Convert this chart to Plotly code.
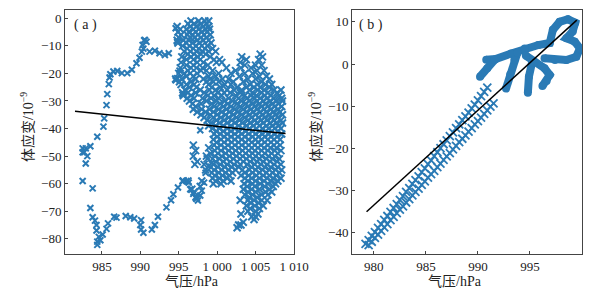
import plotly.graph_objects as go

# ---------------- Panel (a) data ----------------
# sparse trajectory points (pressure hPa, strain 1e-9)
track_p = [984.4, 985.2, 985.3, 985.6, 985.7, 985.9, 986.0, 986.1, 986.5, 987.0, 987.6, 988.3, 988.9,
           989.5, 989.9, 990.2, 990.3, 990.5, 990.6, 990.8, 990.4, 991.2, 991.9, 992.5, 993.2, 993.7,
           994.6, 994.8, 994.8, 995.1, 994.6, 995.5, 997.8,
           982.5, 982.7, 982.9, 982.5, 983.5, 983.1, 982.9, 982.5, 983.8, 983.5,
           983.8, 984.1, 984.3, 984.3, 984.4, 984.4, 984.6, 984.8, 985.1, 985.6, 985.8, 986.6, 986.9,
           988.1, 988.7, 989.2, 990.1, 990.0, 990.1, 990.4, 991.5, 991.9, 992.3, 993.4, 994.0, 994.3,
           994.9, 995.5, 996.0, 996.3, 996.5, 996.9, 997.2, 997.5, 997.3, 997.8, 998.0, 998.3, 998.5,
           998.9, 999.3]
track_s = [-43.0, -39.3, -36.3, -31.5, -27.5, -23.9, -21.5, -20.3, -19.3, -19.1, -19.9, -19.9, -18.7,
           -16.3, -14.3, -12.1, -9.7, -8.0, -7.9, -8.5, -11.0, -12.1, -11.8, -12.7, -13.3, -12.7,
           -3.6, -8.5, -21.7, -19.0, -22.5, -27.7, -40.6,
           -47.2, -48.6, -47.2, -48.6, -46.4, -50.0, -52.7, -59.0, -61.7, -68.8,
           -72.2, -73.4, -75.0, -77.0, -81.0, -82.2, -79.3, -80.5, -78.4, -76.4, -74.4, -72.0, -72.3,
           -71.7, -72.2, -72.6, -73.2, -75.0, -76.6, -77.8, -76.6, -75.0, -72.0, -68.6, -66.0, -63.8,
           -61.4, -59.0, -59.0, -59.6, -62.0, -63.7, -64.9, -66.1, -65.5, -64.3, -62.5, -59.6, -56.0,
           -53.6, -52.4]

# dense cloud, one strain level per row with the pressures read along that row
cloud_strain = list(range(-1, -77, -1))
cloud_pressure = [
    [996.6, 997.6, 998.4, 998.9],
    [996.2, 997.0, 997.9, 998.6],
    [994.8, 996.5, 997.3, 998.2, 998.9],
    [995.2, 996.0, 996.9, 997.6, 998.5, 999.0],
    [994.9, 996.3, 997.2, 998.0, 998.7],
    [995.3, 996.1, 996.8, 997.5, 998.3, 999.1],
    [995.0, 996.5, 997.1, 997.9, 998.6],
    [994.8, 995.6, 996.3, 997.4, 998.2, 998.9],
    [994.9, 996.0, 996.8, 997.7, 999.2],
    [995.5, 996.4, 997.2, 998.0, 998.7],
    [996.1, 996.9, 997.6, 998.4, 999.4],
    [995.7, 996.5, 997.3, 998.1, 998.9, 999.8],
    [996.2, 997.0, 997.9, 998.5, 1005.6],
    [995.4, 996.6, 997.5, 999.1, 1003.2, 1005.9],
    [996.0, 996.9, 997.8, 999.6, 1000.3, 1003.8, 1005.4],
    [995.3, 997.4, 998.2, 999.9, 1000.6, 1003.0],
    [996.0, 996.9, 998.8, 1003.6, 1005.0, 1005.8],
    [995.2, 996.6, 997.3, 998.1, 1001.2, 1003.1, 1004.4],
    [996.2, 997.9, 998.6, 999.4, 1002.4, 1005.2, 1006.1],
    [995.0, 995.7, 996.5, 997.4, 1000.2, 1001.8, 1003.6, 1004.6],
    [996.0, 996.9, 998.9, 999.8, 1002.9, 1005.5, 1006.4],
    [994.6, 995.4, 997.2, 998.2, 999.1, 1000.7, 1001.5, 1004.0, 1005.0, 1006.8],
    [995.1, 996.6, 998.6, 999.5, 1000.2, 1002.1, 1003.4, 1005.8],
    [995.3, 996.0, 997.0, 998.9, 1001.0, 1001.8, 1004.3, 1005.2, 1006.3, 1007.1],
    [996.4, 997.3, 999.3, 1000.4, 1002.6, 1003.8, 1004.8, 1005.6, 1006.8],
    [995.8, 997.8, 999.0, 999.8, 1001.3, 1002.2, 1003.2, 1004.2, 1005.3, 1006.1, 1007.4, 1008.3],
    [995.5, 996.2, 997.2, 998.3, 1000.1, 1000.9, 1001.7, 1003.0, 1004.6, 1005.8, 1006.6, 1007.8],
    [995.6, 996.6, 998.8, 999.6, 1000.6, 1002.4, 1003.6, 1004.4, 1005.1, 1006.2, 1007.0, 1008.1],
    [996.1, 997.0, 998.1, 999.2, 1000.2, 1001.5, 1002.8, 1003.9, 1004.9, 1005.6, 1006.5, 1007.4, 1008.4],
    [996.4, 998.6, 999.9, 1001.0, 1002.0, 1003.2, 1004.2, 1005.2, 1006.0, 1006.9, 1007.7, 1008.5],
    [996.8, 997.9, 999.3, 1000.4, 1001.4, 1002.6, 1003.7, 1004.6, 1005.5, 1006.3, 1007.2, 1008.0],
    [997.2, 999.6, 1000.8, 1001.8, 1003.0, 1004.0, 1004.9, 1005.8, 1006.6, 1007.5, 1008.4],
    [996.9, 998.0, 999.0, 1000.2, 1001.2, 1002.3, 1003.4, 1004.4, 1005.2, 1006.1, 1007.0, 1007.9],
    [997.4, 998.5, 999.5, 1000.6, 1001.6, 1002.7, 1003.8, 1004.7, 1005.6, 1006.4, 1007.3, 1008.2],
    [997.9, 999.1, 1000.0, 1001.1, 1002.1, 1003.2, 1004.2, 1005.0, 1005.9, 1006.8, 1007.6, 1008.5],
    [998.3, 999.5, 1000.5, 1001.5, 1002.5, 1003.6, 1004.5, 1005.4, 1006.2, 1007.1, 1007.9],
    [998.7, 999.9, 1000.9, 1001.9, 1002.9, 1004.0, 1004.9, 1005.7, 1006.5, 1007.4, 1008.3],
    [999.2, 1000.3, 1001.3, 1002.3, 1003.3, 1004.3, 1005.2, 1006.0, 1006.9, 1007.7, 1008.5],
    [998.9, 999.8, 1000.8, 1001.8, 1002.8, 1003.8, 1004.7, 1005.5, 1006.4, 1007.2, 1008.0],
    [999.4, 1000.3, 1001.3, 1002.3, 1003.3, 1004.2, 1005.1, 1005.9, 1006.7, 1007.5, 1008.3],
    [999.9, 1000.8, 1001.8, 1002.8, 1003.7, 1004.6, 1005.5, 1006.3, 1007.1, 1007.9],
    [999.6, 1000.4, 1001.3, 1002.3, 1003.2, 1004.1, 1005.0, 1005.9, 1006.7, 1007.5, 1008.4],
    [1000.0, 1000.9, 1001.8, 1002.7, 1003.6, 1004.6, 1005.4, 1006.2, 1007.0, 1007.8],
    [999.5, 1000.5, 1001.4, 1002.3, 1003.2, 1004.1, 1005.0, 1005.8, 1006.6, 1007.4, 1008.2],
    [999.9, 1000.9, 1001.9, 1002.8, 1003.7, 1004.5, 1005.3, 1006.2, 1007.0, 1007.8],
    [996.9, 999.6, 1000.5, 1001.4, 1002.3, 1003.2, 1004.1, 1004.9, 1005.7, 1006.6, 1007.4, 1008.2],
    [998.9, 1000.0, 1001.0, 1001.9, 1002.8, 1003.7, 1004.5, 1005.3, 1006.1, 1006.9, 1007.7],
    [997.2, 999.7, 1000.5, 1001.5, 1002.4, 1003.3, 1004.1, 1004.9, 1005.8, 1006.6, 1007.5, 1008.3],
    [999.1, 1000.1, 1001.1, 1002.0, 1002.9, 1003.7, 1004.6, 1005.4, 1006.2, 1007.1, 1007.9],
    [996.9, 998.6, 999.7, 1000.6, 1001.6, 1002.5, 1003.3, 1004.2, 1005.0, 1005.8, 1006.7, 1007.5],
    [998.7, 999.4, 1000.3, 1001.2, 1002.1, 1003.0, 1003.8, 1004.7, 1005.5, 1006.4, 1007.2, 1008.1],
    [997.4, 999.8, 1000.8, 1001.7, 1002.6, 1003.4, 1004.3, 1005.2, 1006.0, 1006.9, 1007.8],
    [997.1, 998.3, 999.5, 1000.4, 1001.3, 1002.2, 1003.0, 1003.9, 1004.9, 1005.7, 1006.5, 1007.4, 1008.3],
    [999.2, 1000.1, 1001.0, 1001.9, 1002.8, 1004.5, 1005.3, 1006.2, 1007.0, 1007.9],
    [998.5, 999.6, 1000.6, 1001.5, 1002.4, 1003.3, 1004.2, 1005.0, 1005.9, 1006.8, 1007.6, 1008.4],
    [999.3, 1000.2, 1001.1, 1002.0, 1003.6, 1004.6, 1005.5, 1006.4, 1007.2, 1008.1],
    [999.7, 1000.7, 1001.6, 1003.1, 1004.1, 1005.1, 1006.0, 1006.8, 1007.7],
    [999.4, 1000.3, 1001.3, 1003.6, 1004.5, 1005.5, 1006.5, 1007.3, 1008.3],
    [995.6, 996.2, 998.0, 999.8, 1000.8, 1001.8, 1004.0, 1005.0, 1006.1, 1007.0, 1007.9],
    [999.5, 1000.5, 1003.5, 1004.6, 1005.6, 1006.6, 1007.6],
    [997.8, 1003.9, 1004.9, 1006.2, 1007.3],
    [996.7, 1003.4, 1004.5, 1005.5, 1006.8],
    [997.0, 1004.0, 1005.0, 1006.3, 1007.1],
    [1003.6, 1004.6, 1005.8, 1006.6],
    [997.3, 1004.2, 1005.2],
    [1003.0, 1004.0, 1004.8, 1005.8, 1006.5],
    [1004.4, 1005.4],
    [1003.8, 1004.9, 1006.0],
    [1004.3, 1005.5],
    [1004.0, 1005.0],
    [1003.1, 1005.3],
    [1004.5, 1005.0],
    [1004.8],
    [1003.4],
    [1002.8, 1003.1],
    [1002.6],
]

fit_a_p = [981.5, 1008.9]
fit_a_s = [-33.7, -41.8]

# ---------------- Panel (b) data ----------------
band1_p = [979.2, 979.5, 979.8, 980.1, 980.4, 980.7, 981.0, 981.3, 981.6, 981.9, 982.2, 982.5,
           982.8, 983.1, 983.4, 983.7, 984.0, 984.3, 984.6, 984.9, 985.2, 985.5, 985.8, 986.1,
           986.4, 986.7, 987.0, 987.3, 987.6, 987.9, 988.2, 988.5, 988.8, 989.1, 989.4, 989.7,
           990.0, 990.3, 990.6, 990.9]
band1_s = [-42.6, -41.7, -40.7, -39.8, -38.8, -37.9, -36.9, -36.0, -35.0, -34.1, -33.2, -32.2,
           -31.3, -30.3, -29.4, -28.4, -27.5, -26.6, -25.6, -24.7, -23.7, -22.8, -21.8, -20.9,
           -19.9, -19.0, -18.1, -17.1, -16.2, -15.2, -14.3, -13.3, -12.4, -11.5, -10.5, -9.6,
           -8.6, -7.6, -6.6, -5.6]
band2_p = [979.5, 979.8, 980.1, 980.4, 980.7, 981.0, 981.3, 981.6, 981.9, 982.2, 982.5, 982.8,
           983.1, 983.4, 983.7, 984.0, 984.3, 984.6, 984.9, 985.2, 985.5, 985.8, 986.1, 986.4,
           986.7, 987.0, 987.3, 987.6, 987.9, 988.2, 988.5, 988.8, 989.1, 989.4, 989.7, 990.0,
           990.3, 990.6, 990.9, 991.2, 991.5]
band2_s = [-42.9, -42.1, -41.2, -40.4, -39.5, -38.7, -37.9, -37.0, -36.2, -35.3, -34.5, -33.7,
           -32.8, -32.0, -31.1, -30.3, -29.5, -28.6, -27.8, -26.9, -26.1, -25.3, -24.4, -23.6,
           -22.7, -21.9, -21.1, -20.2, -19.4, -18.5, -17.7, -16.9, -16.0, -15.2, -14.3, -13.5,
           -12.7, -11.8, -11.0, -10.1, -9.3]
scribble_p = [990.8, 991.7, 993.2, 994.5, 995.8, 996.9, 997.2, 997.85, 998.65, 999.35, 999.1, 998.5,
              999.3, 999.8, 999.45, 998.5, 997.4, 996.4, None,
              991.6, 990.9, 990.2, None,
              992.7, 993.1, 993.5, 993.8, None,
              994.6, 995.4, 996.4, 996.9, 996.6, 996.2, None,
              995.2, 994.9, 994.8]
scribble_s = [1.0, 1.2, 2.5, 3.7, 4.5, 5.0, 8.1, 10.0, 10.6, 9.8, 7.7, 6.1,
              5.3, 3.7, 1.7, 0.95, 0.95, 1.35, None,
              1.0, -1.0, -3.0, None,
              -5.8, -2.5, 1.0, 2.7, None,
              2.0, 0.5, -1.0, -2.6, -4.0, -5.2, None,
              0.4, -3.0, -6.8]

fit_b_p = [979.3, 999.5]
fit_b_s = [-35.0, 10.4]

BLUE = "#2a7ab5"
SERIF = "Liberation Serif, Noto Sans CJK SC, serif"

cloud_p, cloud_s = [], []
for s, row in zip(cloud_strain, cloud_pressure):
    for p in row:
        cloud_p.append(p)
        cloud_s.append(s)

mk = dict(symbol="x-thin", size=6, color=BLUE, line=dict(color=BLUE, width=2))
mk_cloud = dict(symbol="x-thin", size=7, color=BLUE, line=dict(color=BLUE, width=2))

fig = go.Figure()
fig.add_trace(go.Scatter(x=track_p, y=track_s, mode="markers",
                         marker=mk, xaxis="x", yaxis="y", showlegend=False))
fig.add_trace(go.Scatter(x=cloud_p, y=cloud_s, mode="markers",
                         marker=mk_cloud, xaxis="x", yaxis="y", showlegend=False))
fig.add_trace(go.Scatter(x=fit_a_p, y=fit_a_s, mode="lines", line=dict(color="black", width=1.5),
                         xaxis="x", yaxis="y", showlegend=False))

mk2 = dict(symbol="x-thin", size=8, color=BLUE, line=dict(color=BLUE, width=1.8))
fig.add_trace(go.Scatter(x=band1_p, y=band1_s, mode="markers", marker=mk2,
                         xaxis="x2", yaxis="y2", showlegend=False))
fig.add_trace(go.Scatter(x=band2_p, y=band2_s, mode="markers", marker=mk2,
                         xaxis="x2", yaxis="y2", showlegend=False))
fig.add_trace(go.Scatter(x=scribble_p, y=scribble_s, mode="lines+markers",
                         line=dict(color=BLUE, width=8), marker=dict(symbol="circle", size=8, color=BLUE),
                         connectgaps=False, xaxis="x2", yaxis="y2", showlegend=False))
fig.add_trace(go.Scatter(x=fit_b_p, y=fit_b_s, mode="lines", line=dict(color="black", width=1.5),
                         xaxis="x2", yaxis="y2", showlegend=False))

axis_common = dict(showline=True, mirror=True, linecolor="#444", linewidth=1, ticks="inside",
                   ticklen=3, tickcolor="#444", showgrid=False, zeroline=False, automargin=False,
                   tickfont=dict(family=SERIF, size=13, color="#222"))

fig.update_layout(
    width=607, height=291,
    margin=dict(l=0, r=0, t=10, b=37),
    paper_bgcolor="white", plot_bgcolor="white",
    hovermode=False,
    xaxis=dict(domain=[65 / 607, 294 / 607], range=[980.2, 1010.0],
               tickvals=[985, 990, 995, 1000, 1005, 1010],
               ticktext=["985", "990", "995", "1 000", "1 005", "1 010"], anchor="y", **axis_common),
    yaxis=dict(domain=[0, 1], range=[-85.5, 3.0], tickvals=[-80, -70, -60, -50, -40, -30, -20, -10, 0],
               anchor="x", **axis_common),
    xaxis2=dict(domain=[352 / 607, 582 / 607], range=[977.9, 1000.0],
                tickvals=[980, 985, 990, 995], anchor="y2", **axis_common),
    yaxis2=dict(domain=[0, 1], range=[-45.0, 12.8], tickvals=[-40, -30, -20, -10, 0, 10],
                anchor="x2", **axis_common),
)

tfont = dict(family=SERIF, size=14, color="#222")
ann = [
    dict(x=27 / 607, y=0.52, text="体应变/10<sup>−9</sup>", textangle=-90),
    dict(x=315 / 607, y=0.52, text="体应变/10<sup>−9</sup>", textangle=-90),
    dict(x=192 / 607, y=-0.111, text="气压/hPa"),
    dict(x=455 / 607, y=-0.111, text="气压/hPa"),
    dict(x=85 / 607, y=0.939, text="( a )"),
    dict(x=371 / 607, y=0.939, text="( b )"),
]
for a in ann:
    fig.add_annotation(xref="paper", yref="paper", showarrow=False, font=tfont,
                       xanchor="center", yanchor="middle", **a)

fig.write_html("out.html", config={"displayModeBar": False, "staticPlot": True},
               post_script="document.body.style.margin='0';")
